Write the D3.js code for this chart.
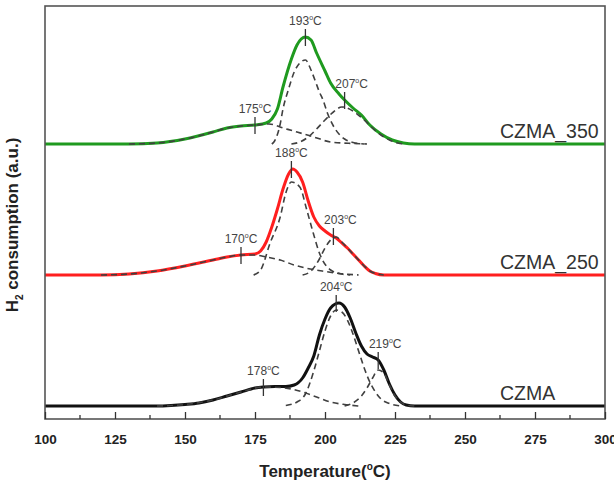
<!DOCTYPE html>
<html>
<head>
<meta charset="utf-8">
<script src="https://cdn.jsdelivr.net/npm/d3@7"></script>
<style>
  body { margin: 0; background: #fff; }
  svg { display: block; font-family: "Liberation Sans", Arial, sans-serif; }
</style>
</head>
<body>
<svg id="chart" width="614" height="483"></svg>
<script>
// Sample names (bottom to top)
var samples = ["CZMA", "CZMA_250", "CZMA_350"];
var colors = ["#111111", "#ff1f1f", "#1f9a1f"];
// Vertical stacking offset of each trace (a.u.)
var offsets = [13, 144, 275];

// Measured TPR traces: [temperature, H2 consumption above own baseline]
var czmaTotal = [[100,0],[140,0],[145,0.5],[150,1.5],[155,3],[160,6],[165,10],[170,14],[175,18],[178,19],[182,19.5],[186,19.5],[189,21],[192,28],[194,38],[196,50],[198,71],[200,87],[202,98],[205,103],[207,99],[209,88],[211,73],[213,60],[215,52],[217,49],[219,46],[221,36],[223,22],[225,11],[227,4],[229,1],[232,0],[300,0]];
var czma250Total = [[100,0],[120,0],[130,1],[140,4],[150,9],[160,15],[165,18],[170,20],[175,21],[177,24],[179,33],[181,48],[183,66],[185,86],[187,101],[188.5,106],[190,103],[192,93],[194,74],[196,58],[198,49],[200,44],[202,40],[204,37],[206,32],[208,27],[210,21],[212,15],[214,9],[216,4],[218,1.5],[221,0],[300,0]];
var czma350Total = [[100,0],[130,0],[140,1],[150,5],[160,12],[165,16],[170,18],[175,19],[179,21],[181,25],[183,35],[185,57],[188,85],[190,99],[193,107],[195,104],[197,91],[200,73],[202,61],[205,50],[207,44],[210,36],[213,29],[216,19],[220,10],[224,4],[228,1],[232,0],[300,0]];

// Deconvoluted peaks (dashed)
var czmaPeaks = [
  [[140,0],[150,1.5],[160,6],[170,14],[178,19],[184,18.5],[188,17],[192,14],[197,9],[202,4],[207,1.5],[212,0]],
  [[186,0.5],[190,4],[193,12],[196,35],[198,55],[200,75],[202,90],[204,96],[206,94],[208,86],[210,72],[212,55],[214,38],[216,24],[218,14],[220,7],[223,2.5],[227,0]],
  [[207,0],[210,3],[213,10],[215,18],[217,28],[219,36],[221,33],[223,21],[225,10],[227,4],[229,1],[232,0]]
];
var czma250Peaks = [
  [[120,0],[130,1],[140,4],[150,9],[160,15],[165,18],[170,20],[175,20],[179,18],[184,15],[189,10],[193,7],[199,4],[205,1.5],[212,0]],
  [[174.5,0],[177,5],[180.4,32],[184,58],[186,82],[188,93],[191,88],[193.5,65],[195.8,42],[198,22],[202,5],[206,1],[209,0]],
  [[192,0],[195,4],[198,16],[200,27],[202,35],[204,38],[206,33],[208,27],[210,21],[212,15],[214,9],[216,4],[218,1.5],[221,0]]
];
var czma350Peaks = [
  [[130,0],[140,1],[150,5],[160,12],[165,16],[170,18],[175,19],[180,20],[185,16],[190,12],[196,7],[202,2],[210,0.5],[215,0]],
  [[181,0],[182,3],[184,20],[185,35],[187,55],[189,72],[191,81],[193,84],[195,74],[196.4,64],[198,52],[199.3,44],[201,30],[203,18],[205,10],[207,5],[210,1.5],[214,0]],
  [[188,0],[191,2],[194,7],[197,15],[200,24],[203,32],[206,37],[208,36],[211,31],[214,24],[217,16],[220,9],[223,4],[226,1],[229,0]]
];

// Peak maxima marked on each trace: [temperature, height]
var czmaMarks = [[178,19],[204,103],[219,46]];
var czma250Marks = [[170,20],[188,106],[203,39]];
var czma350Marks = [[175,19],[193,107],[207,44]];

var xTicks = [100, 125, 150, 175, 200, 225, 250, 275, 300];

var totals = [czmaTotal, czma250Total, czma350Total];
var peaks = [czmaPeaks, czma250Peaks, czma350Peaks];
var marks = [czmaMarks, czma250Marks, czma350Marks];

var svg = d3.select("#chart");
var margin = {left: 45, right: 9, top: 6, bottom: 64};
var W = 614 - margin.left - margin.right;
var H = 483 - margin.top - margin.bottom;

var x = d3.scaleLinear().domain([100, 300]).range([0, W]);
var y = d3.scaleLinear().domain([0, 413]).range([H, 0]);

var g = svg.append("g").attr("transform", "translate(" + margin.left + "," + margin.top + ")");

function lineFor(off) {
  return d3.line()
    .x(function(d) { return x(d[0]); })
    .y(function(d) { return y(d[1] + off); })
    .curve(d3.curveMonotoneX);
}

// traces
samples.forEach(function(name, i) {
  var line = lineFor(offsets[i]);
  g.append("path")
    .datum(totals[i])
    .attr("d", line)
    .attr("fill", "none")
    .attr("stroke", colors[i])
    .attr("stroke-width", 3);

  peaks[i].forEach(function(p) {
    g.append("path")
      .datum(p)
      .attr("d", line)
      .attr("fill", "none")
      .attr("stroke", "#404040")
      .attr("stroke-width", 1.6)
      .attr("stroke-dasharray", "6,4");
  });

  marks[i].forEach(function(m, k) {
    var mx = x(m[0]), my = y(m[1] + offsets[i]);
    g.append("line")
      .attr("x1", mx).attr("x2", mx)
      .attr("y1", my - 8).attr("y2", my + 9)
      .attr("stroke", "#333").attr("stroke-width", 1.3);
    var t = g.append("text")
      .attr("x", mx + (k === 2 ? 7 : 0))
      .attr("y", my - 12)
      .attr("text-anchor", "middle")
      .attr("font-size", 12)
      .attr("fill", "#444");
    t.append("tspan").text(m[0]);
    t.append("tspan").attr("font-size", 7).attr("dy", -5).text("o");
    t.append("tspan").attr("dy", 5).text("C");
  });

  g.append("text")
    .attr("x", 455)
    .attr("y", y(offsets[i]) - 6)
    .attr("font-size", 19.5)
    .attr("fill", "#333")
    .text(name);
});

// frame
g.append("rect")
  .attr("width", W).attr("height", H)
  .attr("fill", "none")
  .attr("stroke", "#555")
  .attr("stroke-width", 1.6);

// x axis with inward ticks
var xAxis = d3.axisBottom(x).tickValues(xTicks).tickSize(-7).tickPadding(15).tickFormat(d3.format("d"));
var ax = g.append("g").attr("transform", "translate(0," + H + ")").call(xAxis);
ax.select(".domain").remove();
ax.selectAll(".tick line").attr("stroke", "#333").attr("stroke-width", 1.3);
ax.selectAll(".tick text").attr("font-size", 13.5).attr("font-weight", "bold").attr("fill", "#222")
  .attr("font-family", "'Liberation Sans', Arial, sans-serif");

var minor = d3.range(0, xTicks.length - 1).map(function(i) { return (xTicks[i] + xTicks[i + 1]) / 2; });
g.selectAll(".minor").data(minor).enter().append("line")
  .attr("x1", function(d) { return x(d); }).attr("x2", function(d) { return x(d); })
  .attr("y1", H).attr("y2", H - 4)
  .attr("stroke", "#333").attr("stroke-width", 1.3);

// axis titles
var xt = svg.append("text")
  .attr("x", margin.left + W / 2)
  .attr("y", 477)
  .attr("text-anchor", "middle")
  .attr("font-size", 17)
  .attr("font-weight", "bold")
  .attr("fill", "#222");
xt.append("tspan").text("Temperature(");
xt.append("tspan").attr("font-size", 10).attr("dy", -7).text("o");
xt.append("tspan").attr("dy", 7).text("C)");

var yt = svg.append("text")
  .attr("transform", "translate(18," + 225 + ") rotate(-90)")
  .attr("text-anchor", "middle")
  .attr("font-size", 17)
  .attr("font-weight", "bold")
  .attr("fill", "#222");
yt.append("tspan").text("H");
yt.append("tspan").attr("font-size", 10).attr("dy", 5).text("2");
yt.append("tspan").attr("dy", -5).text(" consumption (a.u.)");
</script>
</body>
</html>
